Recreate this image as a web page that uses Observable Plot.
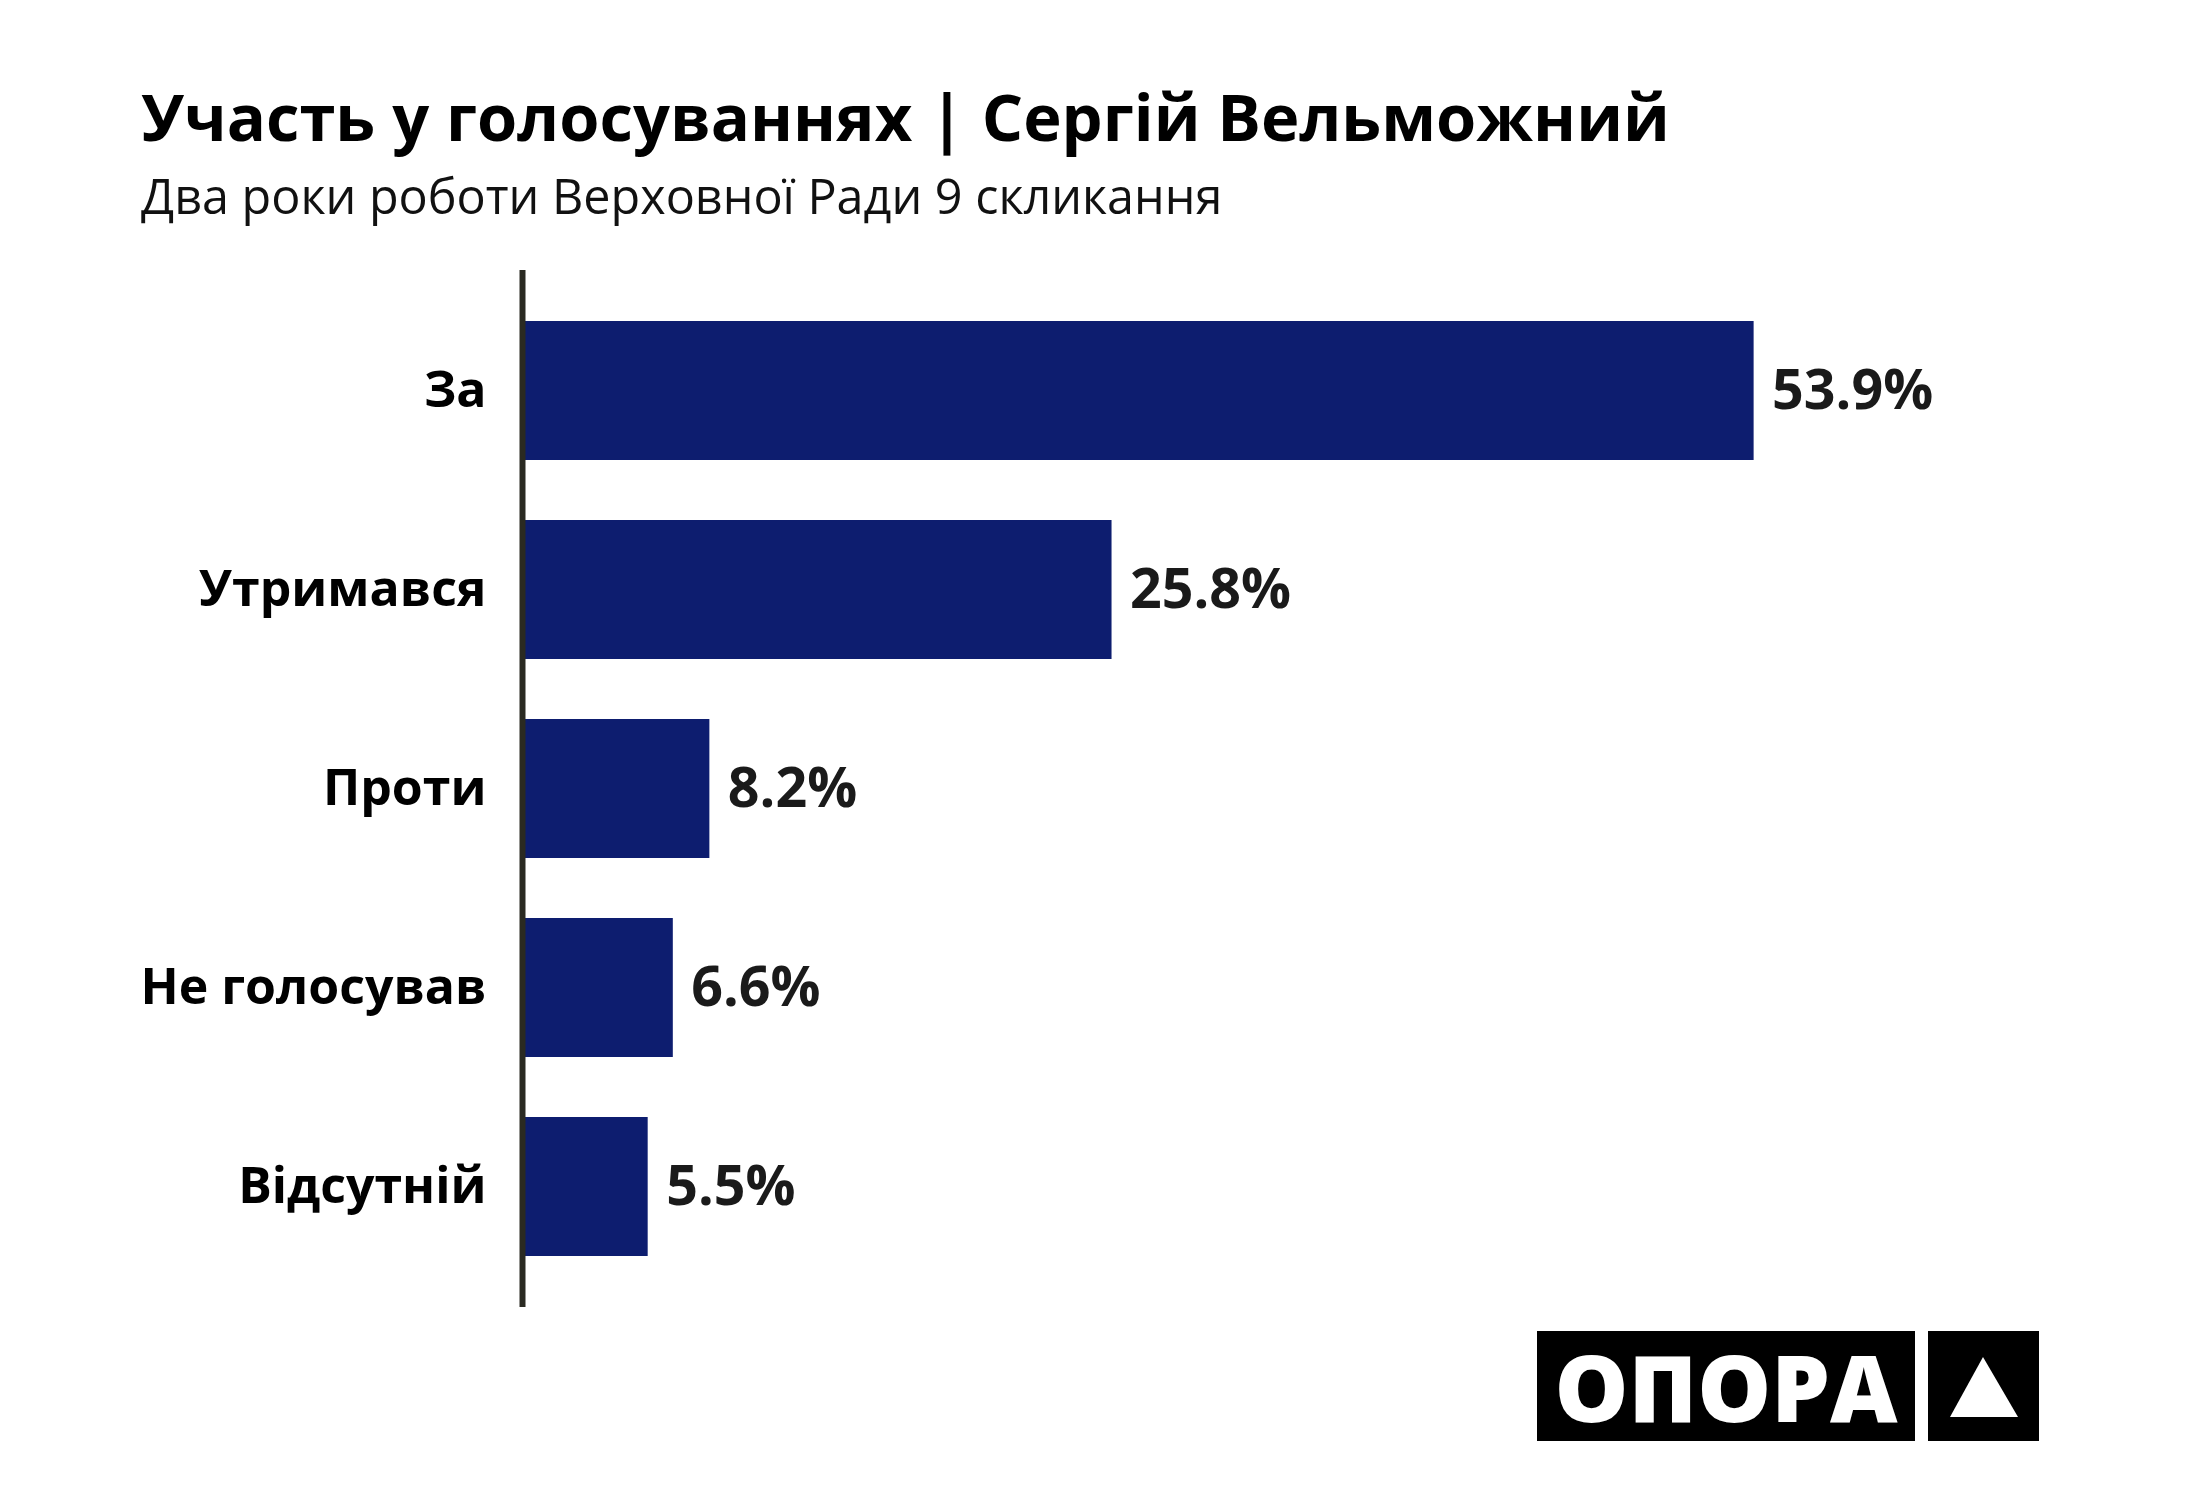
<!DOCTYPE html>
<html>
<head>
<meta charset="utf-8">
<script src="https://cdn.jsdelivr.net/npm/d3@7"></script>
<script src="https://cdn.jsdelivr.net/npm/@observablehq/plot@0.6"></script>
<style>
  html, body { margin: 0; padding: 0; background: #fff; }
  #page { position: relative; width: 2200px; height: 1500px; background: #fff; font-family: "Open Sans", sans-serif; }
  #title { position: absolute; left: 141px; top: 84px; font-size: 65px; font-weight: 700; color: #000; white-space: nowrap; line-height: 1; }
  #subtitle { position: absolute; left: 141px; top: 171px; font-size: 48.5px; font-weight: 400; color: #111; white-space: nowrap; line-height: 1; }
  #chart { position: absolute; left: 0; top: 250px; }
  #logo1 { position: absolute; left: 1537px; top: 1331px; width: 378px; height: 110px; background: #000; color: #fff; font-weight: 800; font-size: 93px; display: flex; align-items: center; justify-content: center; line-height: 1; letter-spacing: 0px; }
  #logo2 { position: absolute; left: 1928px; top: 1331px; width: 111px; height: 110px; background: #000; }
</style>
</head>
<body>
<div id="page">
  <div id="title">Участь у голосуваннях | Сергій Вельможний</div>
  <div id="subtitle">Два роки роботи Верховної Ради 9 скликання</div>
  <div id="chart"></div>
  <div id="logo1">ОПОРА</div>
  <div id="logo2"><svg width="111" height="110"><polygon points="22,86 55,26 90,86" fill="#fff"/></svg></div>
</div>
<script>
const categories = ["За", "Утримався", "Проти", "Не голосував", "Відсутній"];
const values = [53.9, 25.8, 8.2, 6.6, 5.5];
const valueLabels = ["53.9%", "25.8%", "8.2%", "6.6%", "5.5%"];

const data = categories.map((c, i) => ({category: c, value: values[i], label: valueLabels[i]}));

const chart = Plot.plot({
  width: 2200,
  height: 1100,
  marginTop: 20,
  marginBottom: 43,
  marginLeft: 522,
  marginRight: 307,
  style: {fontFamily: "Open Sans, sans-serif", background: "#fff"},
  x: {domain: [0, 60], axis: null},
  y: {domain: categories, paddingInner: 0.3, paddingOuter: 0.25, label: null},
  marks: [
    Plot.barX(data, {y: "category", x: "value", fill: "#0d1d6f"}),
    Plot.ruleX([0], {stroke: "#2a2a22", strokeWidth: 6}),
    Plot.axisY({tickSize: 0, tickPadding: 36, fontSize: 50, fontWeight: 700, fill: "#000", label: null}),
    Plot.text(data, {y: "category", x: "value", text: "label", dx: 18, textAnchor: "start", fontSize: 55.5, fontWeight: 700, fill: "#1a1a1a"})
  ]
});
document.getElementById("chart").appendChild(chart);
</script>
</body>
</html>
